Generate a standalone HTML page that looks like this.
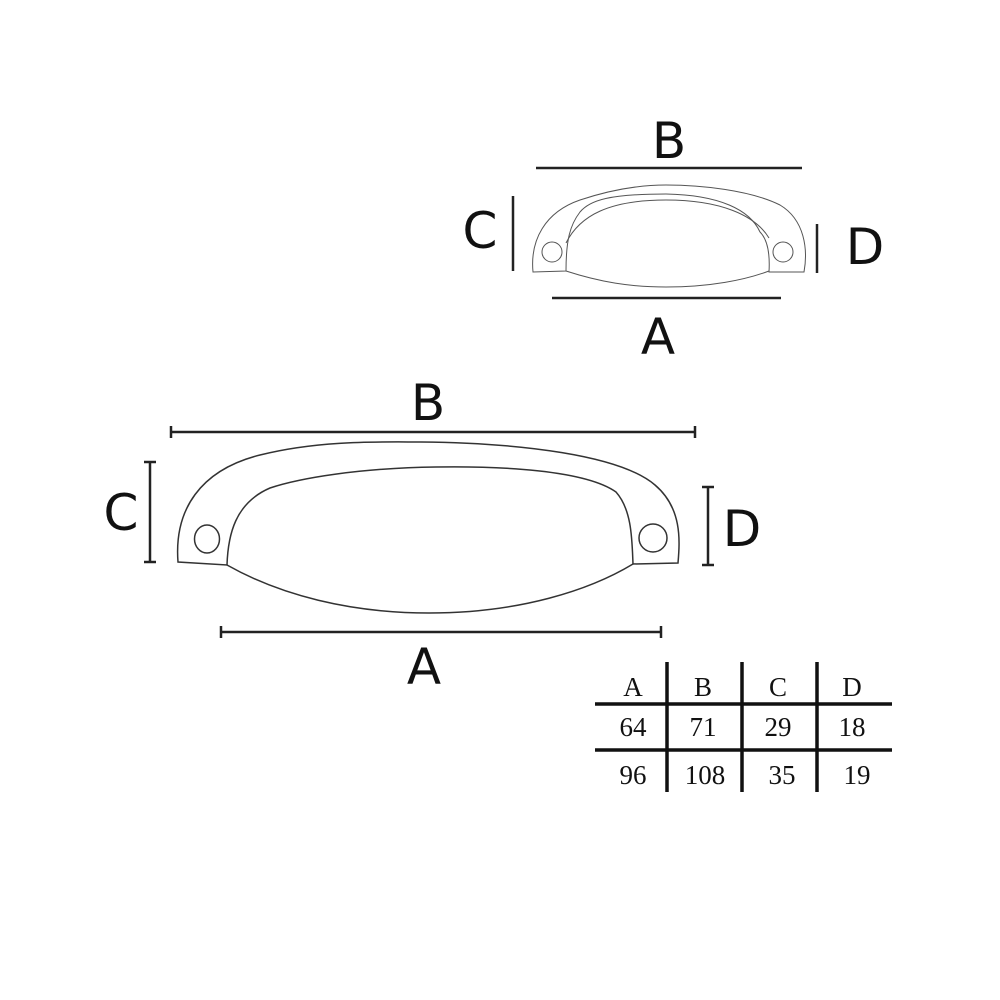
<!DOCTYPE html>
<html><head><style>body{margin:0;background:#fff}</style></head><body>
<svg width="1000" height="1000" xmlns="http://www.w3.org/2000/svg" style="display:block">
<rect width="1000" height="1000" fill="#fff"/>
<g font-family="DejaVu Sans, sans-serif" font-size="50" fill="#111" text-anchor="middle">
<text x="669" y="158">B</text><text x="480" y="248">C</text><text x="865" y="264">D</text><text x="658" y="354">A</text>
<text x="428" y="420">B</text><text x="121" y="530">C</text><text x="742" y="546">D</text><text x="424" y="684">A</text>
</g>
<g stroke="#222" stroke-width="2.5" fill="none">
<line x1="536" y1="168" x2="802" y2="168"/>
<line x1="513" y1="196" x2="513" y2="271"/>
<line x1="817" y1="224" x2="817" y2="273"/>
<line x1="552" y1="298" x2="781" y2="298"/>
<line x1="171" y1="432" x2="695" y2="432"/><line x1="171" y1="426" x2="171" y2="438"/><line x1="695" y1="426" x2="695" y2="438"/>
<line x1="150" y1="462" x2="150" y2="562"/><line x1="144" y1="462" x2="156" y2="462"/><line x1="144" y1="562" x2="156" y2="562"/>
<line x1="708" y1="487" x2="708" y2="565"/><line x1="702" y1="487" x2="714" y2="487"/><line x1="702" y1="565" x2="714" y2="565"/>
<line x1="221" y1="632" x2="661" y2="632"/><line x1="221" y1="626" x2="221" y2="638"/><line x1="661" y1="626" x2="661" y2="638"/>
</g>
<g stroke="#333" stroke-width="1.5" fill="none">
<path d="M178 562 C174 510 200 470 260 455 C320 440 380 442 421 442 C520 443 620 455 655 485 C682 508 680 540 678 563 L633 564 C632 540 632 510 616 492 C585 470 500 466 436 467 C360 468 300 478 270 488 C235 503 228 535 227 565 Z"/>
<path d="M227 565 C280 595 350 613 429 613 C520 613 590 590 633 564"/>
<ellipse cx="207" cy="539" rx="12.5" ry="14"/>
<ellipse cx="653" cy="538" rx="14" ry="14"/>
</g>
<g stroke="#555" stroke-width="1" fill="none">
<path d="M533 272 C530 240 545 212 580 200 C610 190 640 185 666 185 C700 185 750 190 780 205 C805 220 808 250 804 272 L769 272 C770 255 768 240 760 232 C750 210 720 195 666 194 C610 194 590 200 580 212 C570 225 566 240 566 271 Z"/>
<path d="M566 243 C580 215 610 200 666 200 C720 200 755 215 769 238"/>
<path d="M566 271 C600 282 630 287 666 287 C710 287 745 280 769 271"/>
<circle cx="552" cy="252" r="10"/><circle cx="783" cy="252" r="10"/>
</g>
<g stroke="#111" stroke-width="3.5">
<line x1="667" y1="662" x2="667" y2="792"/><line x1="742" y1="662" x2="742" y2="792"/><line x1="817" y1="662" x2="817" y2="792"/>
<line x1="595" y1="704" x2="892" y2="704"/><line x1="595" y1="750" x2="892" y2="750"/>
</g>
<g font-family="Liberation Serif, serif" font-size="27" fill="#111" text-anchor="middle">
<text x="633" y="696">A</text><text x="703" y="696">B</text><text x="778" y="696">C</text><text x="852" y="696">D</text>
<text x="633" y="736">64</text><text x="703" y="736">71</text><text x="778" y="736">29</text><text x="852" y="736">18</text>
<text x="633" y="784">96</text><text x="705" y="784">108</text><text x="782" y="784">35</text><text x="857" y="784">19</text>
</g>
</svg>
</body></html>
